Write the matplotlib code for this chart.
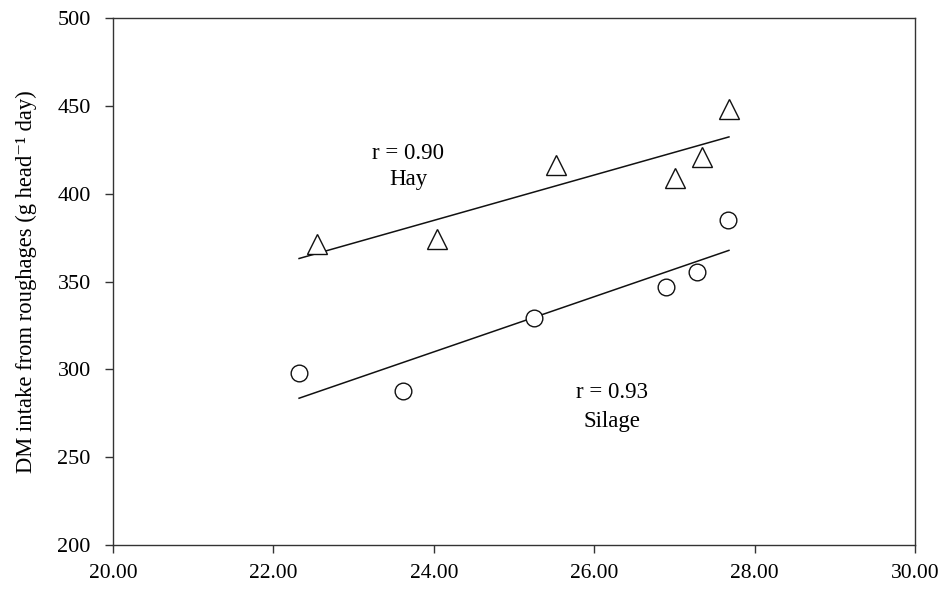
import numpy as np
import matplotlib
matplotlib.use('Agg')
import matplotlib.pyplot as plt

plt.rcParams['font.family'] = ['Liberation Serif', 'DejaVu Serif']

# Hay (triangles) and silage (circles)
hayX = [22.54, 24.04, 25.52, 27.01, 27.34, 27.68]
hayY = [371.3, 374.1, 416.3, 408.7, 421.0, 448.2]
silX = [22.32, 23.61, 25.25, 26.89, 27.28, 27.67]
silY = [297.7, 287.8, 329.0, 346.6, 355.2, 385.0]

xTicks = [20, 22, 24, 26, 28, 30]
yTicks = [200, 250, 300, 350, 400, 450, 500]

fig = plt.figure(figsize=(9.44, 5.89), dpi=100)
ax = fig.add_axes([0.1197, 0.0747, 0.8496, 0.8947])

# fitted lines over the whole x range of the data
xmin = min(hayX + silX)
xmax = max(hayX + silX)
lineX = np.array([xmin, xmax])
for xs, ys in [(hayX, hayY), (silX, silY)]:
    k, b = np.polyfit(xs, ys, 1)
    ax.plot(lineX, k * lineX + b, color='#111111', lw=1.1, zorder=2)

ax.plot(hayX, hayY, linestyle='none', marker='^', markersize=14,
        markerfacecolor='white', markeredgecolor='#111111', markeredgewidth=1.0, zorder=3)
ax.plot(silX, silY, linestyle='none', marker='o', markersize=12,
        markerfacecolor='white', markeredgecolor='#111111', markeredgewidth=1.0, zorder=3)

ax.text(23.68, 423, 'r = 0.90', ha='center', va='center', fontsize=16.5)
ax.text(23.68, 408, 'Hay', ha='center', va='center', fontsize=16.5)
ax.text(26.22, 287, 'r = 0.93', ha='center', va='center', fontsize=16.5)
ax.text(26.22, 270.5, 'Silage', ha='center', va='center', fontsize=16.5)

ax.set_xlim(20, 30)
ax.set_ylim(200, 500)
ax.set_xticks(xTicks)
ax.set_xticklabels(['%.2f' % v for v in xTicks])
ax.set_yticks(yTicks)
ax.tick_params(axis='both', direction='out', color='#333333', width=1.0, length=6)
ax.tick_params(axis='x', labelsize=15.5, pad=8)
ax.tick_params(axis='y', labelsize=16, pad=10)
for s in ax.spines.values():
    s.set_color('#333333')
    s.set_linewidth(1.0)

ax.set_ylabel('DM intake from roughages (g head\u207b\u00b9 day)', fontsize=16.3, labelpad=15)

fig.savefig('out.png', dpi=100)
